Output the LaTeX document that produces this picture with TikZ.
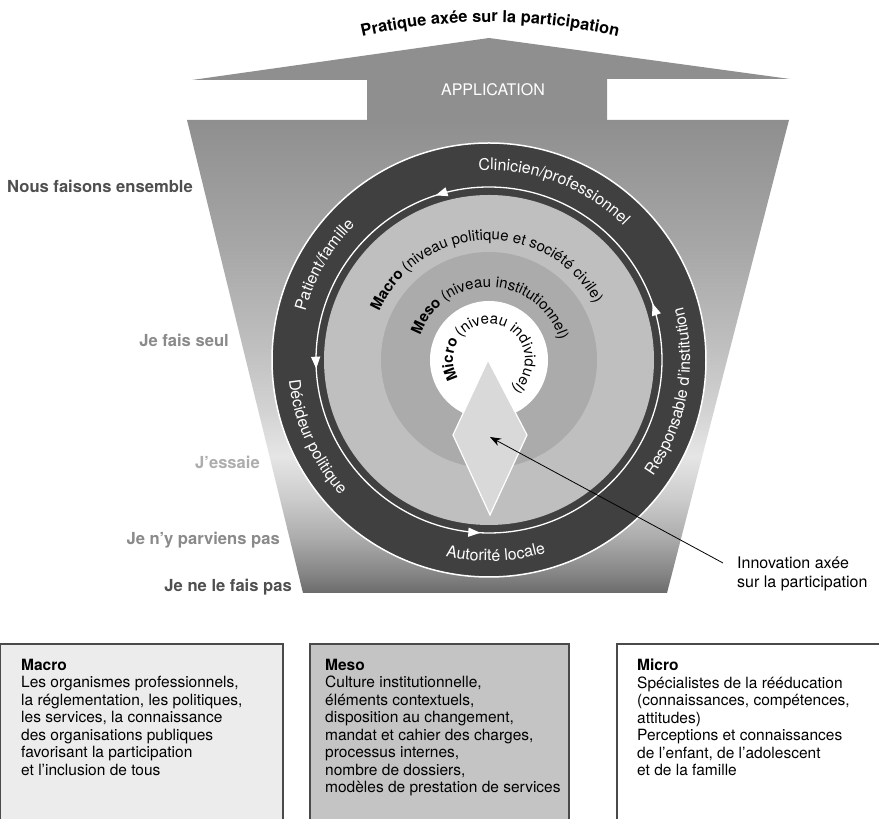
\documentclass[tikz,border=0pt]{standalone}
\usepackage{fontspec}
\setmainfont{TeX Gyre Heros}
\usetikzlibrary{arrows.meta,decorations.text,decorations.markings,positioning}

\definecolor{roofgray}{HTML}{8F8F8F}
\definecolor{ringdark}{HTML}{404040}
\definecolor{macrogray}{HTML}{BFBFBF}
\definecolor{mesogray}{HTML}{ABABAB}
\definecolor{diamondgray}{HTML}{D9D9D9}
\definecolor{boxline}{HTML}{4A4A4A}
\definecolor{boxmacro}{HTML}{ECECEC}
\definecolor{boxmeso}{HTML}{C4C4C4}
\definecolor{lbldark}{HTML}{4F4F4F}
\definecolor{lblmid}{HTML}{8A8A8A}
\definecolor{lbllight}{HTML}{ADADAD}
% trapezoid gradient, bottom to top
\definecolor{tr0}{gray}{0.42}
\definecolor{tr1}{gray}{0.52}
\definecolor{tr2}{gray}{0.68}
\definecolor{tr3}{gray}{0.80}
\definecolor{tr4}{gray}{0.90}
\definecolor{tr5}{gray}{0.83}
\definecolor{tr6}{gray}{0.75}
\definecolor{tr7}{gray}{0.65}
\definecolor{tr8}{gray}{0.56}
\pgfdeclareverticalshading{trapshade}{100bp}{color(0bp)=(tr0); color(25bp)=(tr0); color(27bp)=(tr1); color(31bp)=(tr2); color(35bp)=(tr3); color(39.5bp)=(tr4); color(44bp)=(tr5); color(51bp)=(tr6); color(62bp)=(tr7); color(75bp)=(tr8); color(100bp)=(tr8)}

\tikzset{
  arctext/.style={decorate, decoration={text along path, text align=center, text color=#1}},
  levellabel/.style={anchor=east, inner sep=0pt, font=\fontsize{16.6}{19}\selectfont\bfseries},
  levelbox/.style={fill=#1, draw=boxline, line width=1.2pt},
  boxtext/.style={anchor=north west, inner sep=0pt, align=left, font=\fontsize{15.5}{17.5}\selectfont},
}

\begin{document}
\begin{tikzpicture}[x=1pt,y=1pt]
  \useasboundingbox (0,0) rectangle (879,819);
  \fontsize{16}{19}\selectfont
  \def\cx{489} % center of the rings
  \def\cy{459}
  \coordinate (C) at (\cx,\cy);

  % big arrow on top
  \fill[roofgray] (192,739) -- (489,781) -- (790,740) -- (607,740) -- (607,699)
    -- (367,699) -- (367,739) -- cycle;
  \node[white] (appl) at (493,729) {APPLICATION};
  \path[arctext=black] (490,226) ++(105:571) arc[start angle=105, end angle=75, radius=571]
    [decoration={text={|\fontsize{16.4}{19}\selectfont\bfseries|Pratique axée sur la participation}}];

  % trapezoid
  \shade[shading=trapshade] (187,699) -- (789,699) -- (667,226) -- (303,226) -- cycle;

  % rings
  \filldraw[fill=ringdark, draw=white, line width=1.5pt] (C) circle (217);
  \fill[macrogray] (C) circle (165);
  \fill[mesogray] (C) circle (108);
  \fill[white] (C) circle (59);

  % cycle of arrows
  \draw[white, line width=1.3pt, postaction={decorate}, decoration={markings,
      mark=at position 0.053 with {\arrow{Triangle[length=12pt,width=9pt]}},
      mark=at position 0.300 with {\arrow{Triangle[length=12pt,width=9pt]}},
      mark=at position 0.508 with {\arrow{Triangle[length=12pt,width=9pt]}},
      mark=at position 0.742 with {\arrow{Triangle[length=12pt,width=9pt]}}}]
    (C) ++(0:173) arc[start angle=0, end angle=360, radius=173];

  % actors on the dark ring
  \path[arctext=white] (C) ++(129:190) arc[start angle=129, end angle=9, radius=190]
    [decoration={text={Clinicien/professionnel}}];
  \path[arctext=white] (C) ++(190:190) arc[start angle=190, end angle=110, radius=190]
    [decoration={text={Patient/famille}}];
  \path[arctext=white] (C) ++(164:201) arc[start angle=164, end angle=244, radius=201]
    [decoration={text={Décideur politique}}];
  \path[arctext=white] (C) ++(232:201) arc[start angle=232, end angle=312, radius=201]
    [decoration={text={Autorité locale}}];
  \path[arctext=white] (C) ++(290:201) arc[start angle=290, end angle=410, radius=201]
    [decoration={text={Responsable d’institution}}];

  % levels
  \path[arctext=black] (C) ++(182:120) arc[start angle=182, end angle=2, radius=120]
    [decoration={text={|\fontsize{15}{18}\selectfont\bfseries|Macro|\fontsize{15}{18}\selectfont| (niveau politique et société civile)}}];
  \path[arctext=black] (C) ++(188:73) arc[start angle=188, end angle=-12, radius=73]
    [decoration={text={|\fontsize{15}{18}\selectfont\bfseries|Meso|\fontsize{15}{18}\selectfont| (niveau institutionnel)}}];
  \path[arctext=black] (C) ++(250:36) arc[start angle=250, end angle=-90, radius=36]
    [decoration={text={|\fontsize{15}{18}\selectfont\bfseries|Micro|\fontsize{15}{18}\selectfont| (niveau individuel)}}];

  % innovation
  \filldraw[fill=diamondgray, draw=white, line width=1.2pt]
    (488,459) -- (527,384) -- (490,304) -- (453,384) -- cycle;
  \coordinate (innov) at (490,382);
  \node[anchor=north west, inner sep=0pt, align=left] (innolbl) at (737,262)
    {Innovation axée\\sur la participation};
  \coordinate (innostart) at (723,256);
  \draw[line width=0.8pt, -{Stealth[length=11pt,width=8pt]}] (innostart) -- (innov);

  % scale on the left
  \node[levellabel, lbldark] (nous) at (193,633) {Nous faisons ensemble};
  \node[levellabel, lblmid] (seul) at (229,479) {Je fais seul};
  \node[levellabel, lbllight] (essaie) at (260,357) {J’essaie};
  \node[levellabel, lblmid] (parviens) at (280,279) {Je n’y parviens pas};
  \node[levellabel, lbldark] (fais) at (292,232) {Je ne le fais pas};

  % boxes below
  \filldraw[levelbox=boxmacro] (0,-2) -- (0,175) -- (283,175) -- (283,-2);
  \filldraw[levelbox=boxmeso] (310,-2) -- (310,175) -- (569,175) -- (569,-2);
  \filldraw[levelbox=white] (617,-2) -- (617,175) -- (881,175) -- (881,-2);

  \node[boxtext] (macrotxt) at (21,160) {\textbf{Macro}\\Les organismes professionnels,\\la réglementation, les politiques,\\les services, la connaissance\\des organisations publiques\\favorisant la participation\\et l’inclusion de tous};
  \node[boxtext] (mesotxt) at (325,160) {\textbf{Meso}\\Culture institutionnelle,\\éléments contextuels,\\disposition au changement,\\mandat et cahier des charges,\\processus internes,\\nombre de dossiers,\\modèles de prestation de services};
  \node[boxtext] (microtxt) at (637,160) {\textbf{Micro}\\Spécialistes de la rééducation\\(connaissances, compétences,\\attitudes)\\Perceptions et connaissances\\de l’enfant, de l’adolescent\\et de la famille};
\end{tikzpicture}
\end{document}
